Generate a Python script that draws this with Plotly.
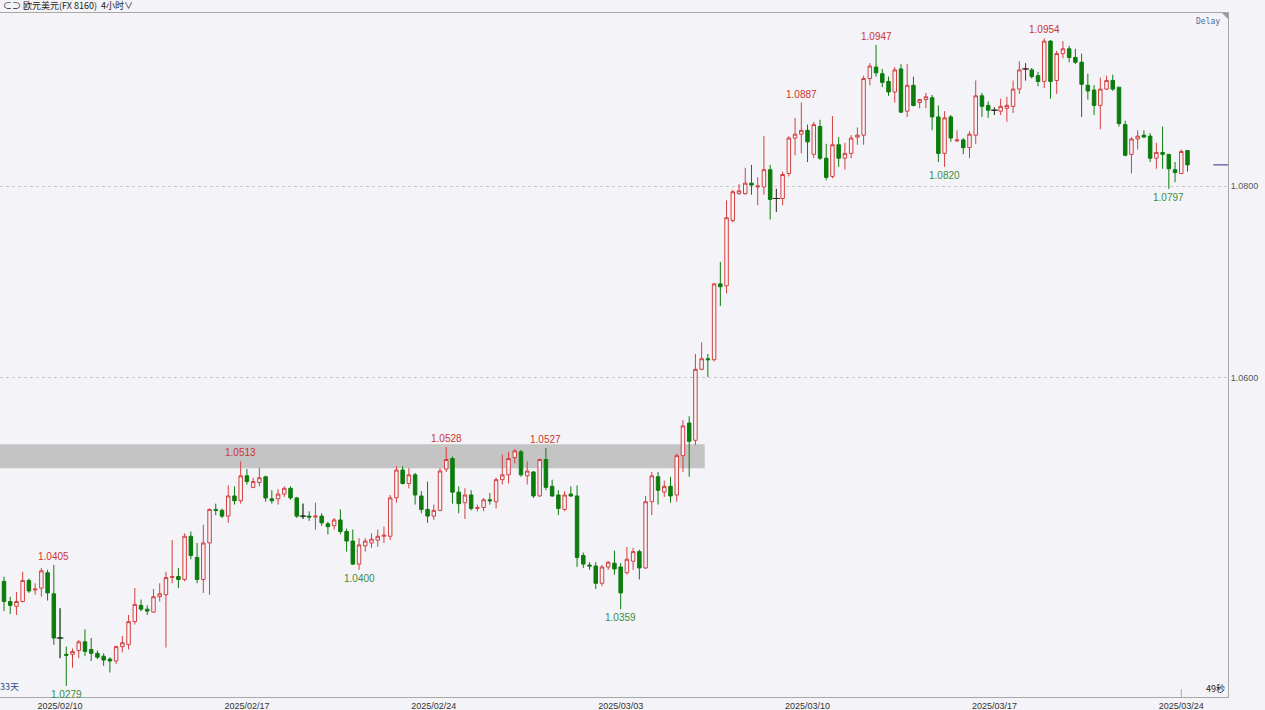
import pandas as pd
import plotly.graph_objects as go

# ---------------- data (EUR/USD, 4-hour bars) ----------------
OPEN = [1.0388, 1.0367, 1.0362, 1.0367, 1.0389, 1.0379, 1.0381, 1.0397, 1.0375, 1.0329,
        1.0312, 1.0312, 1.0316, 1.0325, 1.0317, 1.0313, 1.0310, 1.0307, 1.0305, 1.0320,
        1.0322, 1.0346, 1.0363, 1.0359, 1.0356, 1.0372, 1.0374, 1.0392, 1.0393, 1.0390,
        1.0435, 1.0413, 1.0390, 1.0428, 1.0463, 1.0462, 1.0456, 1.0477, 1.0472, 1.0498,
        1.0486, 1.0491, 1.0497, 1.0474, 1.0474, 1.0479, 1.0485, 1.0475, 1.0456, 1.0456,
        1.0455, 1.0456, 1.0448, 1.0446, 1.0452, 1.0440, 1.0430, 1.0406, 1.0425, 1.0428,
        1.0431, 1.0435, 1.0435, 1.0475, 1.0504, 1.0490, 1.0499, 1.0477, 1.0463, 1.0456,
        1.0462, 1.0505, 1.0516, 1.0481, 1.0470, 1.0478, 1.0464, 1.0465, 1.0473, 1.0471,
        1.0494, 1.0499, 1.0517, 1.0523, 1.0498, 1.0502, 1.0477, 1.0515, 1.0487, 1.0478,
        1.0463, 1.0479, 1.0477, 1.0415, 1.0405, 1.0404, 1.0386, 1.0403, 1.0407, 1.0403,
        1.0397, 1.0409, 1.0419, 1.0402, 1.0471, 1.0497, 1.0481, 1.0487, 1.0478, 1.0519,
        1.0553, 1.0535, 1.0609, 1.0620, 1.0619, 1.0698, 1.0696, 1.0764, 1.0792, 1.0792,
        1.0803, 1.0799, 1.0799, 1.0817, 1.0787, 1.0787, 1.0813, 1.0850, 1.0854, 1.0858,
        1.0833, 1.0862, 1.0829, 1.0810, 1.0843, 1.0829, 1.0834, 1.0851, 1.0853, 1.0912,
        1.0924, 1.0917, 1.0909, 1.0898, 1.0922, 1.0878, 1.0905, 1.0887, 1.0890, 1.0892,
        1.0872, 1.0834, 1.0872, 1.0847, 1.0848, 1.0840, 1.0853, 1.0894, 1.0884, 1.0879,
        1.0878, 1.0881, 1.0883, 1.0901, 1.0922, 1.0921, 1.0915, 1.0909, 1.0951, 1.0910,
        1.0938, 1.0943, 1.0934, 1.0929, 1.0905, 1.0900, 1.0884, 1.0901, 1.0910, 1.0903,
        1.0864, 1.0833, 1.0849, 1.0853, 1.0852, 1.0829, 1.0835, 1.0833, 1.0817, 1.0813,
        1.0837]
HIGH = [1.0393, 1.0372, 1.0377, 1.0398, 1.0391, 1.0386, 1.0402, 1.0400, 1.0405, 1.0360,
        1.0320, 1.0318, 1.0327, 1.0338, 1.0329, 1.0316, 1.0313, 1.0309, 1.0321, 1.0331,
        1.0353, 1.0381, 1.0369, 1.0363, 1.0380, 1.0386, 1.0398, 1.0431, 1.0402, 1.0438,
        1.0440, 1.0428, 1.0447, 1.0464, 1.0469, 1.0464, 1.0488, 1.0487, 1.0513, 1.0505,
        1.0496, 1.0506, 1.0498, 1.0483, 1.0484, 1.0487, 1.0487, 1.0476, 1.0469, 1.0461,
        1.0470, 1.0459, 1.0450, 1.0454, 1.0463, 1.0443, 1.0442, 1.0433, 1.0433, 1.0438,
        1.0442, 1.0445, 1.0478, 1.0508, 1.0508, 1.0506, 1.0501, 1.0482, 1.0492, 1.0468,
        1.0506, 1.0528, 1.0518, 1.0487, 1.0485, 1.0483, 1.0468, 1.0475, 1.0480, 1.0496,
        1.0520, 1.0523, 1.0526, 1.0525, 1.0513, 1.0503, 1.0516, 1.0527, 1.0494, 1.0483,
        1.0482, 1.0487, 1.0488, 1.0418, 1.0408, 1.0408, 1.0405, 1.0409, 1.0420, 1.0407,
        1.0424, 1.0423, 1.0421, 1.0477, 1.0502, 1.0502, 1.0493, 1.0497, 1.0521, 1.0556,
        1.0560, 1.0625, 1.0637, 1.0625, 1.0699, 1.0721, 1.0785, 1.0796, 1.0802, 1.0819,
        1.0822, 1.0809, 1.0852, 1.0822, 1.0797, 1.0815, 1.0852, 1.0871, 1.0887, 1.0864,
        1.0867, 1.0869, 1.0844, 1.0873, 1.0851, 1.0845, 1.0853, 1.0861, 1.0915, 1.0928,
        1.0947, 1.0922, 1.0914, 1.0924, 1.0927, 1.0927, 1.0914, 1.0891, 1.0897, 1.0895,
        1.0884, 1.0878, 1.0874, 1.0858, 1.0850, 1.0857, 1.0910, 1.0897, 1.0888, 1.0882,
        1.0891, 1.0893, 1.0910, 1.0930, 1.0928, 1.0923, 1.0919, 1.0954, 1.0952, 1.0941,
        1.0951, 1.0946, 1.0943, 1.0938, 1.0917, 1.0905, 1.0913, 1.0915, 1.0916, 1.0903,
        1.0868, 1.0851, 1.0858, 1.0858, 1.0855, 1.0845, 1.0862, 1.0833, 1.0825, 1.0838,
        1.0837]
LOW = [1.0357, 1.0354, 1.0353, 1.0366, 1.0376, 1.0374, 1.0372, 1.0368, 1.0322, 1.0308,
       1.0279, 1.0298, 1.0308, 1.0310, 1.0305, 1.0307, 1.0300, 1.0293, 1.0302, 1.0314,
       1.0317, 1.0343, 1.0357, 1.0353, 1.0355, 1.0367, 1.0319, 1.0386, 1.0381, 1.0388,
       1.0411, 1.0386, 1.0376, 1.0374, 1.0457, 1.0454, 1.0449, 1.0468, 1.0469, 1.0489,
       1.0485, 1.0487, 1.0471, 1.0469, 1.0468, 1.0476, 1.0473, 1.0454, 1.0453, 1.0451,
       1.0442, 1.0446, 1.0437, 1.0442, 1.0437, 1.0419, 1.0405, 1.0400, 1.0419, 1.0423,
       1.0424, 1.0428, 1.0431, 1.0470, 1.0489, 1.0485, 1.0468, 1.0459, 1.0449, 1.0452,
       1.0461, 1.0502, 1.0469, 1.0459, 1.0453, 1.0462, 1.0461, 1.0461, 1.0468, 1.0464,
       1.0489, 1.0490, 1.0511, 1.0497, 1.0489, 1.0475, 1.0476, 1.0483, 1.0476, 1.0457,
       1.0461, 1.0476, 1.0403, 1.0402, 1.0400, 1.0380, 1.0383, 1.0400, 1.0395, 1.0359,
       1.0395, 1.0400, 1.0390, 1.0401, 1.0457, 1.0468, 1.0476, 1.0470, 1.0471, 1.0502,
       1.0497, 1.0530, 1.0608, 1.0601, 1.0617, 1.0675, 1.0688, 1.0762, 1.0791, 1.0791,
       1.0791, 1.0780, 1.0791, 1.0765, 1.0773, 1.0780, 1.0810, 1.0832, 1.0834, 1.0825,
       1.0829, 1.0827, 1.0806, 1.0808, 1.0820, 1.0817, 1.0829, 1.0843, 1.0843, 1.0905,
       1.0914, 1.0903, 1.0894, 1.0887, 1.0876, 1.0872, 1.0883, 1.0881, 1.0881, 1.0858,
       1.0825, 1.0820, 1.0846, 1.0846, 1.0833, 1.0829, 1.0844, 1.0872, 1.0871, 1.0874,
       1.0874, 1.0867, 1.0876, 1.0896, 1.0910, 1.0912, 1.0904, 1.0902, 1.0891, 1.0896,
       1.0933, 1.0929, 1.0927, 1.0872, 1.0890, 1.0874, 1.0859, 1.0900, 1.0899, 1.0862,
       1.0831, 1.0813, 1.0838, 1.0850, 1.0825, 1.0818, 1.0818, 1.0797, 1.0804, 1.0813,
       1.0815]
CLOSE = [1.0367, 1.0363, 1.0367, 1.0389, 1.0378, 1.0380, 1.0399, 1.0376, 1.0329, 1.0329,
         1.0311, 1.0315, 1.0325, 1.0315, 1.0313, 1.0309, 1.0306, 1.0305, 1.0320, 1.0324,
         1.0346, 1.0364, 1.0359, 1.0357, 1.0372, 1.0375, 1.0392, 1.0393, 1.0390, 1.0435,
         1.0415, 1.0390, 1.0428, 1.0463, 1.0462, 1.0456, 1.0477, 1.0472, 1.0498, 1.0492,
         1.0492, 1.0496, 1.0475, 1.0472, 1.0479, 1.0485, 1.0475, 1.0456, 1.0456, 1.0455,
         1.0456, 1.0449, 1.0445, 1.0452, 1.0440, 1.0430, 1.0406, 1.0426, 1.0430, 1.0432,
         1.0435, 1.0436, 1.0475, 1.0504, 1.0490, 1.0499, 1.0478, 1.0463, 1.0456, 1.0462,
         1.0503, 1.0515, 1.0481, 1.0469, 1.0478, 1.0464, 1.0465, 1.0473, 1.0472, 1.0494,
         1.0499, 1.0516, 1.0524, 1.0499, 1.0503, 1.0477, 1.0515, 1.0486, 1.0477, 1.0464,
         1.0478, 1.0477, 1.0413, 1.0406, 1.0404, 1.0386, 1.0403, 1.0408, 1.0401, 1.0376,
         1.0411, 1.0419, 1.0402, 1.0471, 1.0498, 1.0483, 1.0487, 1.0477, 1.0519, 1.0550,
         1.0534, 1.0609, 1.0620, 1.0619, 1.0698, 1.0695, 1.0767, 1.0794, 1.0795, 1.0803,
         1.0801, 1.0800, 1.0817, 1.0786, 1.0787, 1.0812, 1.0850, 1.0854, 1.0858, 1.0846,
         1.0864, 1.0829, 1.0809, 1.0843, 1.0829, 1.0834, 1.0850, 1.0853, 1.0912, 1.0925,
         1.0918, 1.0908, 1.0898, 1.0921, 1.0877, 1.0905, 1.0884, 1.0890, 1.0893, 1.0872,
         1.0834, 1.0871, 1.0850, 1.0848, 1.0840, 1.0854, 1.0894, 1.0883, 1.0879, 1.0879,
         1.0883, 1.0884, 1.0901, 1.0921, 1.0922, 1.0914, 1.0909, 1.0951, 1.0909, 1.0938,
         1.0943, 1.0934, 1.0929, 1.0906, 1.0899, 1.0884, 1.0901, 1.0910, 1.0901, 1.0865,
         1.0832, 1.0849, 1.0852, 1.0851, 1.0829, 1.0835, 1.0833, 1.0818, 1.0814, 1.0836,
         1.0822]

# bar time categories: 4-hour bars, weekdays only, starting Thu 2025-02-06 12:00
_days = pd.bdate_range("2025-02-06", "2025-03-24")
_stamps = [d + pd.Timedelta(hours=h) for d in _days for h in range(0, 24, 4)]
_stamps = [s for s in _stamps if s >= pd.Timestamp("2025-02-06 12:00")][:len(CLOSE)]
TIMES = [s.strftime("%Y-%m-%d %H:%M") for s in _stamps]

TICK_LABELS = ["2025/02/10", "2025/02/17", "2025/02/24", "2025/03/03",
               "2025/03/10", "2025/03/17", "2025/03/24"]
PRICE_TICKS = [1.0600, 1.0800]

# high / low markers
MARK_INDEX = [8, 10, 38, 57, 71, 87, 99, 128, 140, 151, 167, 187]
MARK_TEXT = ["1.0405", "1.0279", "1.0513", "1.0400", "1.0528", "1.0527",
             "1.0359", "1.0887", "1.0947", "1.0820", "1.0954", "1.0797"]
MARK_SIDE = ["high", "low", "high", "low", "high", "high",
             "low", "high", "high", "low", "high", "low"]

# resistance band
ZONE_LOW, ZONE_HIGH = 1.0506, 1.0531
ZONE_END_INDEX = 112.5

# ---------------- styling ----------------
BG = "#F4F4F8"
UP = "#D43F3F"
DOWN = "#0C7C0C"
HI_TXT = "#CC3333"
LO_TXT = "#3C8C3C"

fig = go.Figure()

fig.add_shape(type="rect", xref="x", yref="y",
              x0=-0.64, x1=ZONE_END_INDEX, y0=ZONE_LOW, y1=ZONE_HIGH,
              fillcolor="#C4C4C4", line=dict(width=0), layer="below")

fig.add_trace(go.Candlestick(
    x=TIMES, open=OPEN, high=HIGH, low=LOW, close=CLOSE,
    increasing=dict(line=dict(color=UP, width=1), fillcolor=BG),
    decreasing=dict(line=dict(color=DOWN, width=1), fillcolor=DOWN),
    whiskerwidth=0, hoverinfo="skip", showlegend=False,
))

# doji bars (open == close) drawn in black
dx, dy, bx, by = [], [], [], []
for t, o, h, l, c in zip(TIMES, OPEN, HIGH, LOW, CLOSE):
    if o == c:
        dx += [t, t, None]
        dy += [l, h, None]
        bx.append(t)
        by.append(c)
fig.add_trace(go.Scatter(x=dx, y=dy, mode="lines", line=dict(color="#444444", width=1),
                         hoverinfo="skip", showlegend=False))
fig.add_trace(go.Scatter(x=bx, y=by, mode="markers",
                         marker=dict(symbol="line-ew", size=5, line=dict(color="#222222", width=1)),
                         hoverinfo="skip", showlegend=False))

for idx, txt, side in zip(MARK_INDEX, MARK_TEXT, MARK_SIDE):
    if side == "high":
        fig.add_annotation(x=TIMES[idx], y=HIGH[idx], text=txt, showarrow=False,
                           yanchor="bottom", yshift=1,
                           font=dict(size=10, color=HI_TXT, family="Liberation Sans, Arial"))
    else:
        fig.add_annotation(x=TIMES[idx], y=LOW[idx], text=txt, showarrow=False,
                           yanchor="top", yshift=-1,
                           font=dict(size=10, color=LO_TXT, family="Liberation Sans, Arial"))

# current price marker at right edge
fig.add_shape(type="line", xref="paper", yref="y", x0=0.988, x1=1.0,
              y0=CLOSE[-1], y1=CLOSE[-1], line=dict(color="#2B2B8C", width=1))

# small corner triangle (top right of plot area)
fig.add_shape(type="path", xref="paper", yref="paper", xsizemode="pixel", ysizemode="pixel",
              xanchor=1, yanchor=1, path="M -6,0 L 0,0 L 0,-6 Z",
              fillcolor="#9A9A9A", line=dict(width=0))

# current bar time mark on the time axis
fig.add_shape(type="line", xref="x", yref="paper", ysizemode="pixel", yanchor=0,
              x0=TIMES[-2], x1=TIMES[-2], y0=0, y1=8,
              line=dict(color="#A8A8A8", width=1))

# header and corner texts
fig.add_annotation(xref="paper", yref="paper", x=0.001, y=1, xanchor="left", yanchor="bottom",
                   text="⊂⊃ 欧元美元(FX 8160)  4小时∨", showarrow=False, yshift=-1,
                   font=dict(size=9, color="#222222", family="Noto Sans CJK SC"))
fig.add_annotation(xref="paper", yref="paper", x=1, y=1, xanchor="right", yanchor="top",
                   text="Delay", showarrow=False, xshift=-6, yshift=-2,
                   font=dict(size=8, color="#4A6A9A", family="DejaVu Sans Mono"))
fig.add_annotation(xref="paper", yref="paper", x=0, y=0, xanchor="left", yanchor="bottom",
                   text="33天", showarrow=False, yshift=2, xshift=-2,
                   font=dict(size=9, color="#2E4E8E", family="Noto Sans CJK SC"))
fig.add_annotation(xref="paper", yref="paper", x=1, y=0, xanchor="right", yanchor="bottom",
                   text="49秒", showarrow=False, yshift=0, xshift=-1,
                   font=dict(size=9, color="#222222", family="Noto Sans CJK SC"))

fig.update_layout(
    width=1265, height=710,
    margin=dict(l=0, r=37, t=13, b=13),
    paper_bgcolor=BG, plot_bgcolor=BG,
    boxgap=0.2,
    xaxis=dict(
        type="category", categoryorder="array", categoryarray=TIMES,
        range=[-0.64, 196.5], rangeslider=dict(visible=False),
        tickvals=[lab.replace("/", "-") + " 00:00" for lab in TICK_LABELS],
        ticktext=TICK_LABELS, ticks="", showgrid=False,
        showline=True, linecolor="#A8A8A8", linewidth=1, mirror=True,
        tickfont=dict(size=9, color="#333333", family="Liberation Sans, Arial"),
        zeroline=False,
    ),
    yaxis=dict(
        side="right", range=[1.02675, 1.09803],
        tickvals=PRICE_TICKS, ticktext=[f"{v:.4f}" for v in PRICE_TICKS],
        showgrid=True, gridcolor="#C8C8C8", griddash="3px,3px", gridwidth=1,
        showline=True, linecolor="#A8A8A8", linewidth=1, mirror=True,
        ticks="", tickfont=dict(size=9, color="#555555", family="Liberation Sans, Arial"),
        zeroline=False,
    ),
    showlegend=False,
)

fig.write_html("out.html", config={"displayModeBar": False},
               post_script="document.body.style.margin='0';document.body.style.overflow='hidden';")
